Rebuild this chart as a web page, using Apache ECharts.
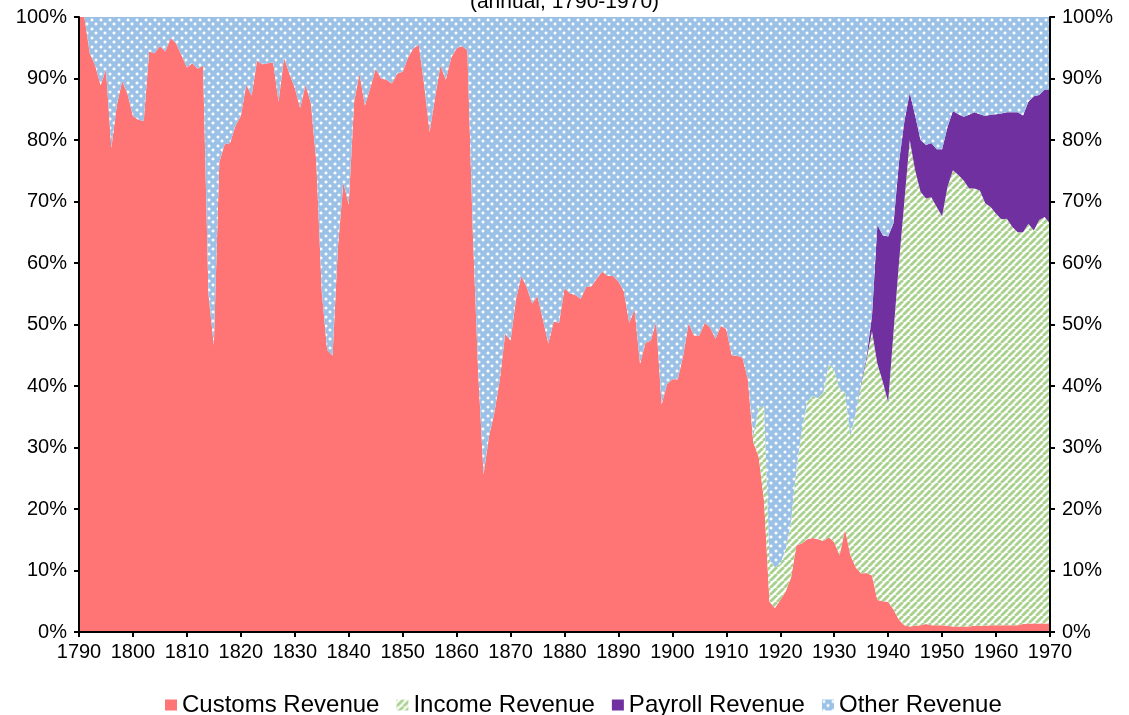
<!DOCTYPE html>
<html>
<head>
<meta charset="UTF-8">
<title>revenue_share.html</title>
<script src="https://cdn.jsdelivr.net/npm/echarts@6/dist/echarts.min.js"></script>
<style type="text/css">
  html, body { margin: 0; padding: 0; background: #fff; }
  #chart { width: 1129px; height: 715px; }
</style>
</head>
<body>
<div id="chart"></div>
<script>
// share of federal revenue, % (annual, 1790-1970)
var firstYear = 1790;
var lastYear = 1970;

// customs share, one value per year from 1790
var customs = [
  100, 100, 94.1, 92.1, 88.9, 91.5, 78.7, 85.6, 89.6, 87.5,
  83.9, 83.3, 83.1, 94.4, 94.1, 95.3, 94.4, 96.6, 95.7, 93.8,
  91.8, 92.5, 91.6, 92.1, 55.0, 46.6, 76.4, 79.3, 79.5, 82.3,
  83.9, 89.0, 87.2, 92.9, 92.3, 92.5, 92.6, 86.2, 93.4, 90.8,
  88.5, 85.2, 89.0, 85.9, 76.4, 55.4, 45.9, 44.9, 62.6, 73.1,
  69.5, 86.2, 90.8, 85.6, 88.5, 91.6, 90.0, 89.8, 89.2, 90.8,
  91.1, 93.4, 94.9, 95.5, 88.9, 81.3, 86.9, 92.1, 89.8, 93.4,
  94.9, 95.3, 94.6, 65.2, 42.3, 25.6, 31.8, 35.7, 41.0, 48.5,
  47.4, 54.1, 57.9, 56.1, 53.4, 54.6, 50.8, 46.9, 50.5, 50.3,
  55.9, 55.1, 54.8, 54.2, 56.1, 56.2, 57.5, 58.6, 57.9, 57.9,
  57.0, 55.4, 50.3, 52.5, 43.6, 47.0, 47.4, 50.5, 37.0, 40.3,
  41.1, 41.1, 44.9, 50.2, 48.2, 48.2, 50.3, 49.5, 47.7, 49.8,
  49.2, 45.0, 44.9, 44.6, 41.0, 30.8, 28.5, 21.3, 4.9, 3.9,
  5.2, 6.6, 8.9, 14.1, 14.4, 15.1, 15.3, 15.1, 14.8, 15.4,
  14.6, 12.5, 16.7, 12.5, 10.5, 9.5, 9.6, 9.2, 5.2, 5.0,
  4.9, 3.6, 2.0, 1.1, 0.9, 1.0, 1.1, 1.3, 1.1, 1.1,
  1.1, 1.0, 0.9, 0.9, 0.9, 0.9, 1.0, 1.0, 1.0, 1.1,
  1.1, 1.1, 1.1, 1.1, 1.1, 1.3, 1.4, 1.4, 1.4, 1.4,
  1.4
];

// income share, from 1915 (no income band before that)
var incomeStart = 1915;
var income = [
  1.0, 7.9, 15.4, 6.9, 6.6,
  5.9, 6.8, 9.1, 12.5, 18.4, 22.3, 23.1, 22.9, 24.2, 28.2,
  28.0, 26.8, 22.3, 19.3, 25.2, 30.8, 34.7, 39.7, 38.4, 35.7,
  32.5, 45.3, 58.0, 68.9, 79.1, 74.1, 70.5, 69.2, 69.6, 68.0,
  66.5, 71.4, 74.2, 73.4, 72.5, 71.2, 71.1, 70.8, 68.7, 68.0,
  66.9, 66.0, 66.1, 64.8, 63.9, 63.7, 65.0, 63.9, 65.6, 66.1,
  65.0
];

// payroll share, from 1935
var payrollStart = 1935;
var payroll = [
  0.3, 0.5, 2.5, 22.6, 23.8,
  26.9, 17.6, 16.4, 13.0, 7.7, 8.9, 8.4, 8.7, 8.8, 9.4,
  10.9, 9.7, 9.6, 9.9, 10.4, 12.0, 12.4, 12.4, 14.2, 15.0,
  16.2, 17.2, 17.3, 18.6, 19.5, 19.0, 19.8, 21.8, 20.3, 20.7,
  21.8
];

var yTicks = [0, 10, 20, 30, 40, 50, 60, 70, 80, 90, 100];

// build the table the chart needs
var years = [], sCustoms = [], sIncome = [], sPayroll = [], sOther = [];
for (var y = firstYear; y <= lastYear; y++) {
  var i = y - firstYear;
  var c = customs[i];
  var inc = y < incomeStart ? 0 : income[y - incomeStart];
  var p = y < payrollStart ? 0 : payroll[y - payrollStart];
  years.push(String(y));
  sCustoms.push(c);
  sIncome.push(inc);
  sPayroll.push(p);
  sOther.push(Math.max(0, +(100 - c - inc - p).toFixed(2)));
}

// fill patterns
function dots() {
  var cv = document.createElement('canvas');
  cv.width = 9; cv.height = 9;
  var g = cv.getContext('2d');
  g.fillStyle = '#9BC2E6';
  g.fillRect(0, 0, 9, 9);
  g.fillStyle = 'rgba(255,255,255,0.35)';
  g.fillRect(0, 1, 4, 2); g.fillRect(1, 0, 2, 4);
  g.fillRect(4, 5, 4, 2); g.fillRect(5, 4, 2, 4);
  g.fillStyle = 'rgba(255,255,255,0.95)';
  g.fillRect(1, 1, 2, 2);
  g.fillRect(5, 5, 2, 2);
  return cv;
}
function stripes() {
  var n = 7;
  var cv = document.createElement('canvas');
  cv.width = n; cv.height = n;
  var g = cv.getContext('2d');
  g.fillStyle = '#ffffff';
  g.fillRect(0, 0, n, n);
  g.strokeStyle = '#A9D18E';
  g.lineWidth = 2.8;
  [-n, 0, n].forEach(function (k) {
    g.beginPath();
    g.moveTo(k, n);
    g.lineTo(k + n, 0);
    g.stroke();
  });
  return cv;
}

var pinkFill = '#FF7575';
var greenFill = { image: stripes(), repeat: 'repeat' };
var purpleFill = '#7030A0';
var blueFill = { image: dots(), repeat: 'repeat' };

function area(name, data, fill) {
  return {
    name: name,
    type: 'line',
    stack: 'total',
    data: data,
    symbol: 'none',
    showSymbol: false,
    lineStyle: { width: 0 },
    itemStyle: { color: fill },
    areaStyle: { color: fill, opacity: 1 },
    emphasis: { disabled: true },
    animation: false
  };
}

var font = 'Liberation Sans, Arial, sans-serif';

var chart = echarts.init(document.getElementById('chart'));
var option = {
  animation: false,
  title: {
    text: '(annual, 1790-1970)',
    left: 'center',
    top: -13,
    textStyle: { fontFamily: font, fontSize: 21, fontWeight: 'normal', color: '#000' }
  },
  grid: { left: 79, right: 79, top: 17, bottom: 83 },
  legend: {
    top: 688,
    left: 160,
    icon: 'rect',
    itemWidth: 12,
    itemHeight: 11,
    itemGap: 17,
    textStyle: { fontFamily: font, fontSize: 24, color: '#000' },
    data: ['Customs Revenue', 'Income Revenue', 'Payroll Revenue', 'Other Revenue']
  },
  xAxis: [{
    type: 'category',
    data: years,
    boundaryGap: false,
    z: 5,
    axisLine: { lineStyle: { color: '#000', width: 2 } },
    axisTick: { interval: 9, length: 5, lineStyle: { color: '#000', width: 2 } },
    axisLabel: { interval: 9, margin: 10, fontFamily: font, fontSize: 20, color: '#000' },
    splitLine: { show: false }
  }, {
    type: 'category',
    data: years,
    position: 'top',
    boundaryGap: false,
    z: 5,
    axisLine: { lineStyle: { color: '#000', width: 2 } },
    axisTick: { show: false },
    axisLabel: { show: false },
    splitLine: { show: false }
  }],
  yAxis: [{
    type: 'value',
    min: yTicks[0],
    max: yTicks[yTicks.length - 1],
    interval: 10,
    position: 'left',
    z: 5,
    axisLine: { show: true, lineStyle: { color: '#000', width: 2 } },
    axisTick: { show: true, length: 5, lineStyle: { color: '#000', width: 2 } },
    axisLabel: { formatter: '{value}%', margin: 12, fontFamily: font, fontSize: 20, color: '#000' },
    splitLine: { show: false }
  }, {
    type: 'value',
    min: yTicks[0],
    max: yTicks[yTicks.length - 1],
    interval: 10,
    position: 'right',
    z: 5,
    axisLine: { show: true, lineStyle: { color: '#000', width: 2 } },
    axisTick: { show: true, length: 5, lineStyle: { color: '#000', width: 2 } },
    axisLabel: { formatter: '{value}%', margin: 12, fontFamily: font, fontSize: 20, color: '#000' },
    splitLine: { show: false }
  }],
  series: [
    area('Customs Revenue', sCustoms, pinkFill),
    area('Income Revenue', sIncome, greenFill),
    area('Payroll Revenue', sPayroll, purpleFill),
    area('Other Revenue', sOther, blueFill)
  ]
};
chart.setOption(option);
</script>
</body>
</html>
